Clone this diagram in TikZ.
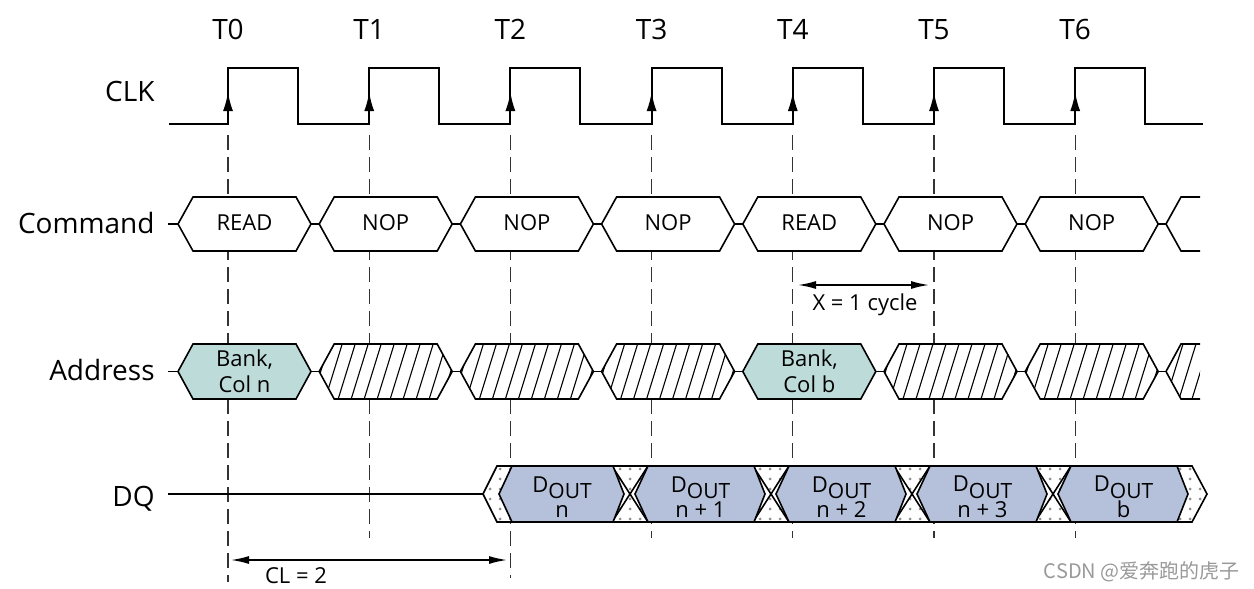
\documentclass[tikz,border=0pt]{standalone}
\usepackage{fontspec}
\setmainfont{Open Sans}
\newfontfamily\cjkfont{Noto Sans CJK SC}
\usetikzlibrary{arrows.meta,patterns.meta}

\definecolor{addrfill}{RGB}{189,219,217}
\definecolor{dqfill}{RGB}{181,193,219}

\tikzdeclarepattern{
  name=dq dots,
  type=uncolored,
  bottom left={(-1pt,-1pt)},
  top right={(1pt,1pt)},
  tile size={(5pt,5pt)},
  code={\fill (0pt,0pt) circle (0.75pt);}
}

\newcommand{\dout}{D\raisebox{-3.3pt}[0pt][0pt]{\fontsize{10.5}{12}\selectfont OUT}}

\tikzstyle{row name}=[anchor=base east,inner sep=0pt,font=\fontsize{14}{16}\selectfont]
\tikzstyle{tick name}=[anchor=base,inner sep=0pt,font=\fontsize{14}{16}\selectfont]
\tikzstyle{small name}=[anchor=base,inner sep=0pt,font=\fontsize{11}{13}\selectfont]
\tikzstyle{box text}=[inner sep=0pt,align=center,font=\fontsize{11}{12.8}\selectfont]
\tikzstyle{wave}=[draw,line width=1pt]
\tikzstyle{bus}=[draw,line width=0.8pt]
\tikzstyle{hatch}=[draw,line width=0.55pt]
\tikzstyle{guide}=[draw,black!80,line width=0.55pt,dash pattern=on 7.5pt off 3.5pt]
\tikzstyle{clk arrow}=[draw,line width=1pt,-{Latex[length=9.5pt,width=5pt]}]
\tikzstyle{span}=[draw,line width=0.8pt,{Latex[length=9pt,width=4pt]}-{Latex[length=9pt,width=4pt]}]

\begin{document}
\begin{tikzpicture}[x=0.5pt,y=-0.5pt]
     \useasboundingbox (0,0) rectangle (1254,589);
     % Row names and clock ticks
     \foreach \pos/\name/\txt in {{(155,101)/clk/CLK}, {(155,233)/command/Command},
       {(155,380)/address/Address}, {(155,506)/dq/DQ}}
     \node[row name] (\name) at \pos {\txt};

     \foreach \i in {0,...,6}
     \node[tick name] (t\i) at (228+141.2*\i,39.5) {T\i};

     % Dashed guides first, the boxes hide them
     \foreach \i/\low in {0/582, 1/538, 2/578, 3/538, 4/538, 5/538, 6/538}
     \path[guide] (228+141.2*\i,135) -- (228+141.2*\i,\low);

     % Clock
     \path[wave] (169,124) \foreach \i in {0,...,6} {-| ({228+141.2*\i},68) -| ({298+141.2*\i},124)} -- (1203,124);
     \foreach \i in {0,...,6}
     \path[clk arrow] (228+141.2*\i,124) -- (228+141.2*\i,92);

     % Command
     \path[bus] (168,224) -- (178,224);
     \foreach \i/\cmd in {0/READ, 1/NOP, 2/NOP, 3/NOP, 4/READ, 5/NOP, 6/NOP} {
       \pgfmathsetmacro\e{228+141.2*\i}
       \path[bus,fill=white] (\e-50,224) -- (\e-35,197) -- (\e+68,197) -- (\e+83,224)
         -- (\e+68,251) -- (\e-35,251) -- cycle;
       \path[bus] (\e+83,224) -- (\e+91.2,224);
       \node[box text] (cmd\i) at (\e+16.5,223) {\cmd};
     }
     \path[bus,fill=white] (1200,197) -- (1181,197) -- (1166,224) -- (1181,251) -- (1200,251);

     % Address
     \path[bus] (168,371.5) -- (178,371.5);
     \foreach \i/\col in {0/n, 4/b} {
       \pgfmathsetmacro\e{228+141.2*\i}
       \path[bus,fill=addrfill] (\e-50,371.5) -- (\e-35,344) -- (\e+68,344) -- (\e+83,371.5)
         -- (\e+68,399) -- (\e-35,399) -- cycle;
       \node[box text] (addr\i) at (\e+16.5,371.5) {Bank,\\Col \col};
     }
     \foreach \i in {1,2,3,5,6} {
       \pgfmathsetmacro\e{228+141.2*\i}
       \path[fill=white] (\e-50,371.5) -- (\e-35,344) -- (\e+68,344) -- (\e+83,371.5)
         -- (\e+68,399) -- (\e-35,399) -- cycle;
       \begin{scope}
         \clip (\e-50,371.5) -- (\e-35,344) -- (\e+68,344) -- (\e+83,371.5)
           -- (\e+68,399) -- (\e-35,399) -- cycle;
         \foreach \h in {-70,-57,...,90}
         \path[hatch] (\e+\h,399) -- (\e+\h+17,344);
       \end{scope}
       \path[bus] (\e-50,371.5) -- (\e-35,344) -- (\e+68,344) -- (\e+83,371.5)
         -- (\e+68,399) -- (\e-35,399) -- cycle;
     }
     \foreach \i in {0,...,6}
     \path[bus] (228+141.2*\i+83,371.5) -- (228+141.2*\i+91.2,371.5);
     \begin{scope}
       \clip (1200,344) -- (1181,344) -- (1166,371.5) -- (1181,399) -- (1200,399) -- cycle;
       \foreach \h in {1140,1153,...,1200}
       \path[hatch] (\h,399) -- (\h+17,344);
     \end{scope}
     \path[bus] (1200,344) -- (1181,344) -- (1166,371.5) -- (1181,399) -- (1200,399);

     % DQ
     \path[bus] (168,494) -- (483,494);
     \path[fill=white] (483,494) -- (497,466) -- (1192,466) -- (1207,494) -- (1192,522) -- (497,522) -- cycle;
     \path[pattern=dq dots,pattern color=black!45] (483,494) -- (497,466) -- (1192,466) -- (1207,494)
       -- (1192,522) -- (497,522) -- cycle;
     \path[bus] (483,494) -- (497,466) -- (1192,466) -- (1207,494) -- (1192,522) -- (497,522) -- cycle;
     \foreach \c in {630,771,912,1053}
     \path[bus] (\c-18,466) -- (\c+18,522) (\c-18,522) -- (\c+18,466);
     \foreach \a/\b/\txt/\name in {494/630/n/n0, 630/771/n + 1/n1, 771/912/n + 2/n2,
       912/1053/n + 3/n3, 1053/1194/b/b0} {
       \path[bus,fill=dqfill] (\a+5,494) -- (\a+18,466) -- (\b-17,466) -- (\b-6,494)
         -- (\b-17,522) -- (\a+18,522) -- cycle;
       \node[box text] (dout \name) at ({(\a+\b)/2},497) {\dout\\\txt};
     }

     % Timing spans
     \coordinate (x start) at (798,285);
     \coordinate (x end) at (929,285);
     \path[span] (x start) -- (x end);
     \node[small name] (x label) at (865,310) {X = 1 cycle};
     \coordinate (cl start) at (231,560);
     \coordinate (cl end) at (507,560);
     \path[span] (cl start) -- (cl end);
     \node[small name] (cl label) at (296,583) {CL = 2};

     \node[anchor=base east,inner sep=0pt,text=black!40,font=\cjkfont\fontsize{10}{12}\selectfont]
       (mark) at (1240,578) {CSDN @爱奔跑的虎子};
 \end{tikzpicture}
\end{document}
